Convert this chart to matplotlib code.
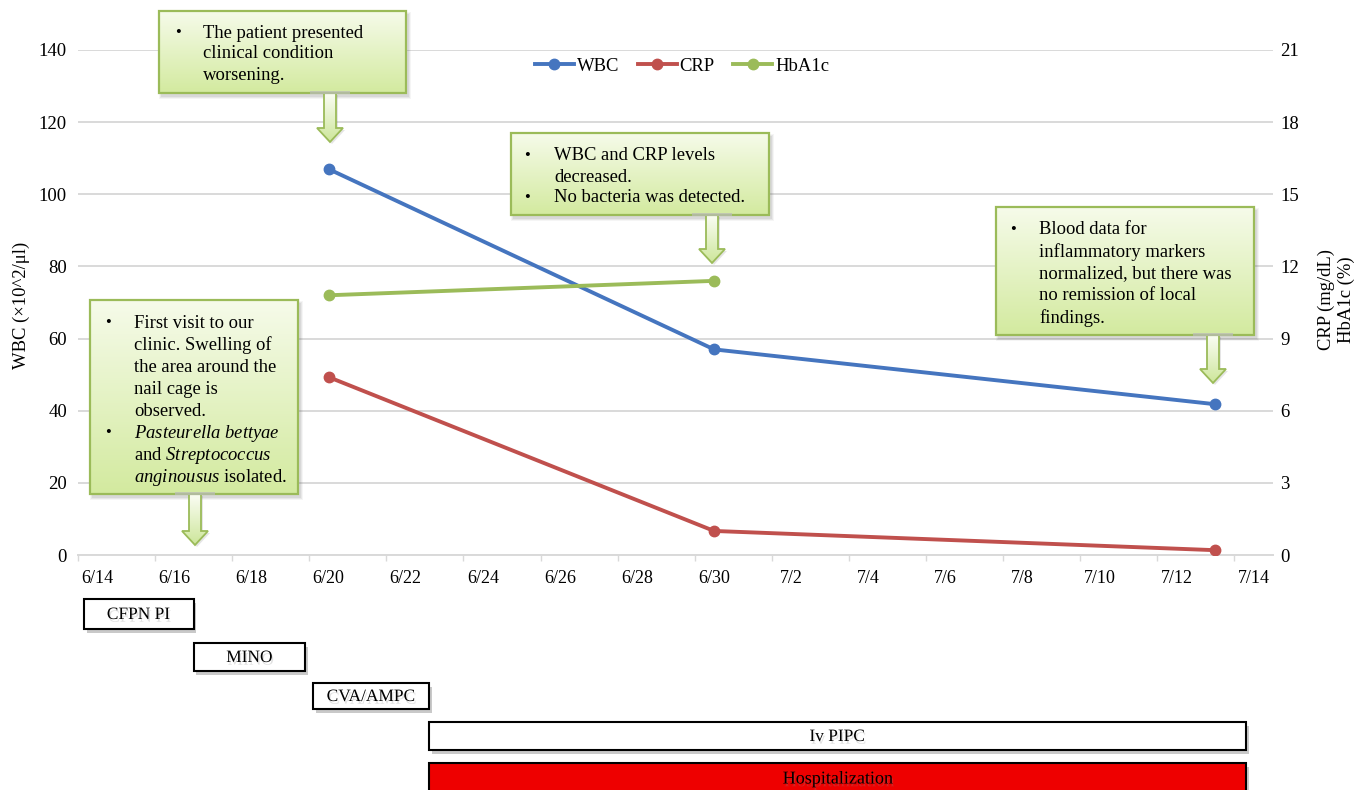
import matplotlib
matplotlib.use('Agg')
import matplotlib.pyplot as plt
import numpy as np
from datetime import date
from matplotlib.patches import Rectangle, Polygon
from matplotlib.colors import LinearSegmentedColormap
from matplotlib.transforms import blended_transform_factory
from matplotlib.lines import Line2D
import matplotlib.patheffects as pe

plt.rcParams['font.family'] = ['Liberation Serif', 'DejaVu Serif']
plt.rcParams['mathtext.fontset'] = 'custom'
plt.rcParams['mathtext.rm'] = 'Liberation Serif'
plt.rcParams['mathtext.it'] = 'Liberation Serif:italic'

# ---------------- data ----------------
x_tick_labels = ["6/14", "6/16", "6/18", "6/20", "6/22", "6/24", "6/26", "6/28",
                 "6/30", "7/2", "7/4", "7/6", "7/8", "7/10", "7/12", "7/14"]
wbc_dates = ["6/20", "6/30", "7/13"]
wbc_values = [107, 57, 41.8]
crp_dates = ["6/20", "6/30", "7/13"]
crp_values = [7.4, 1.0, 0.2]
hba1c_dates = ["6/20", "6/30"]
hba1c_values = [10.8, 11.4]
wbc_ticks = [0, 20, 40, 60, 80, 100, 120, 140]
right_ticks = [0, 3, 6, 9, 12, 15, 18, 21]

treatment_names = ["CFPN PI", "MINO", "CVA/AMPC", "Iv PIPC", "Hospitalization"]
treatment_start_day = [-0.35, 2.5, 5.6, 8.6, 8.6]   # days after 6/14
treatment_end_day = [2.5, 5.4, 8.6, 29.8, 29.8]
treatment_fill = ["white", "white", "white", "white", "#EE0000"]

C_WBC = '#4575BF'
C_CRP = '#C0504D'
C_HBA = '#9BBB59'
GRID = '#D9D9D9'
FS = 13.4


def day(s):
    m, d = map(int, s.split('/'))
    return (date(2021, m, d) - date(2021, 6, 14)).days


W, H = 1369, 790
fig = plt.figure(figsize=(W / 100, H / 100), dpi=100)
ax = fig.add_axes([78 / W, 1 - 555 / H, (1273 - 78) / W, (555 - 50) / H])
ax2 = ax.twinx()

ax.set_xlim(-0.5, 30.5)
ax.set_ylim(0, 140)
ax2.set_ylim(0, 21)
ax.set_yticks(wbc_ticks)
ax2.set_yticks(right_ticks)
ax.yaxis.grid(True, color=GRID, lw=1.4)
ax.set_axisbelow(True)
for a in (ax, ax2):
    for s in a.spines.values():
        s.set_visible(False)
ax.spines['bottom'].set_visible(True)
ax.spines['bottom'].set_color(GRID)
ax.spines['bottom'].set_linewidth(1.4)

ax.set_xticks([day(l) for l in x_tick_labels])
ax.set_xticklabels(x_tick_labels)
ax.set_xticks(np.arange(-0.5, 31, 2), minor=True)
ax.tick_params(axis='x', which='major', length=0, pad=11, labelsize=13)
ax.tick_params(axis='x', which='minor', length=4, width=1, color=GRID)
ax.tick_params(axis='y', length=0, pad=8, labelsize=13.5)
ax2.tick_params(axis='y', length=0, pad=5, labelsize=13.5)

lw, ms = 2.8, 7.5
ax.plot([day(d) for d in wbc_dates], wbc_values, color=C_WBC, lw=lw, marker='o', ms=ms, zorder=3)
ax2.plot([day(d) for d in crp_dates], crp_values, color=C_CRP, lw=lw, marker='o', ms=ms, zorder=3)
ax2.plot([day(d) for d in hba1c_dates], hba1c_values, color=C_HBA, lw=lw, marker='o', ms=ms, zorder=3)

handles = [Line2D([], [], color=c, lw=lw, marker='o', ms=ms) for c in (C_WBC, C_CRP, C_HBA)]
ax2.legend(handles, ["WBC", "CRP", "HbA1c"], loc='center', bbox_to_anchor=(682 / W, 1 - 66 / H),
           bbox_transform=fig.transFigure, ncol=3, frameon=False, fontsize=FS,
           handlelength=2.1, handletextpad=0.15, columnspacing=1.0)

fig.text(21 / W, 1 - 305 / H, "WBC (×10^2/μl)", rotation=90, ha='center', va='center', fontsize=FS)
fig.text(1336 / W, 1 - 300 / H, "CRP (mg/dL)\nHbA1c (%)", rotation=90, ha='center', va='center',
         fontsize=FS, multialignment='center', linespacing=1.2)

# ---------------- overlay (pixel coords) ----------------
ov = fig.add_axes([0, 0, 1, 1], zorder=5)
ov.set_xlim(0, W)
ov.set_ylim(H, 0)
ov.axis('off')
ov.patch.set_visible(False)


def grad_fill(patch, c_top, c_bot, y0, y1, x0, x1):
    cmap = LinearSegmentedColormap.from_list('g', [c_top, c_bot])
    img = np.linspace(0, 1, 256).reshape(-1, 1)
    im = ov.imshow(img, cmap=cmap, extent=(x0, x1, y1, y0), origin='upper', aspect='auto', zorder=2)
    im.set_clip_path(patch)


def callout(box, arrow_x, tip, head_start, bullet_x, text_x, lines):
    x0, y0, x1, y1 = box
    for i, al in enumerate([0.10, 0.08, 0.06]):
        ov.add_patch(Rectangle((x0 + 2 - i, y0 + 3 - i), x1 - x0 + 2 * i + 1, y1 - y0 + 2 * i + 1,
                               facecolor='#555555', edgecolor='none', alpha=al, zorder=1))
    r = Rectangle((x0, y0), x1 - x0, y1 - y0, facecolor='none', edgecolor='none')
    ov.add_patch(r)
    grad_fill(r, '#F6FBEA', '#D3EA9F', y0, y1, x0, x1)
    ov.add_patch(Rectangle((x0, y0), x1 - x0, y1 - y0, facecolor='none', edgecolor='#9BBB59', lw=1.6, zorder=3))
    sw, hw = 6, 13
    verts = [(arrow_x - sw, y1), (arrow_x + sw, y1), (arrow_x + sw, head_start), (arrow_x + hw, head_start),
             (arrow_x, tip), (arrow_x - hw, head_start), (arrow_x - sw, head_start)]
    sh = Polygon([(vx + 2, vy + 2) for vx, vy in verts], closed=True, facecolor='#555555', alpha=0.15,
                 edgecolor='none', zorder=1)
    ov.add_patch(sh)
    p = Polygon(verts, closed=True, facecolor='none', edgecolor='none')
    ov.add_patch(p)
    grad_fill(p, '#FBFDF5', '#CDE69A', y1, tip, arrow_x - hw, arrow_x + hw)
    ov.add_patch(Polygon(verts, closed=True, facecolor='none', edgecolor='#9BBB59', lw=1.3, zorder=3))
    ov.add_patch(Rectangle((arrow_x - 20, y1 - 2), 40, 3, facecolor='#BBBBBB', edgecolor='none', alpha=0.7, zorder=3))
    for y, txt, bullet in lines:
        if bullet:
            ov.text(bullet_x, y + 2, "•", ha='center', va='center', fontsize=12, zorder=4)
        ov.text(text_x, y + 2, txt, ha='left', va='center', fontsize=FS, zorder=4)


callout((159, 11, 406, 93), 330, 142, 128, 178, 203,
        [(31, "The patient presented", True), (52, "clinical condition", False), (73, "worsening.", False)])
callout((511, 133, 769, 215), 712, 263, 249, 527, 554,
        [(154, "WBC and CRP levels", True), (175, "decreased.", False), (196, "No bacteria was detected.", True)])
callout((996, 207, 1254, 335), 1213, 383, 369, 1013, 1039,
        [(228, "Blood data for", True), (250, "inflammatory markers", False),
         (272, "normalized, but there was", False), (294, "no remission of local", False),
         (316, "findings.", False)])
callout((90, 300, 298, 494), 195, 545, 531, 108, 134,
        [(321, "First visit to our", True), (343, "clinic. Swelling of", False),
         (365, "the area around the", False), (387, "nail cage is", False), (409, "observed.", False),
         (431, r"$\mathit{Pasteurella\ bettyae}$", True), (453, r"and $\mathit{Streptococcus}$", False),
         (475, r"$\mathit{anginousus}$ isolated.", False)])

# ---------------- treatment timeline ----------------
trans = blended_transform_factory(ax.transData, ov.transData)
rows = [(599, 629), (643, 671), (683, 709), (722, 750), (763, 800)]
for name, s, e, fc, (ry0, ry1) in zip(treatment_names, treatment_start_day, treatment_end_day,
                                     treatment_fill, rows):
    rect = Rectangle((s, ry0), e - s, ry1 - ry0, transform=trans, facecolor=fc, edgecolor='black',
                     lw=1.5, zorder=3, clip_on=False,
                     path_effects=[pe.SimplePatchShadow(offset=(2, -3), shadow_rgbFace='#666666', alpha=0.35),
                                   pe.Normal()])
    ov.add_patch(rect)
    ty = (ry0 + ry1) / 2 + 1 if name != "Hospitalization" else 779
    fs = 13 if len(name) > 8 else 12.5
    ov.text((s + e) / 2, ty, name, transform=trans, ha='center', va='center', fontsize=fs, zorder=4,
            path_effects=[pe.withSimplePatchShadow(offset=(1, -2), shadow_rgbFace='#888888', alpha=0.25)])

fig.savefig('out.png', dpi=100)
